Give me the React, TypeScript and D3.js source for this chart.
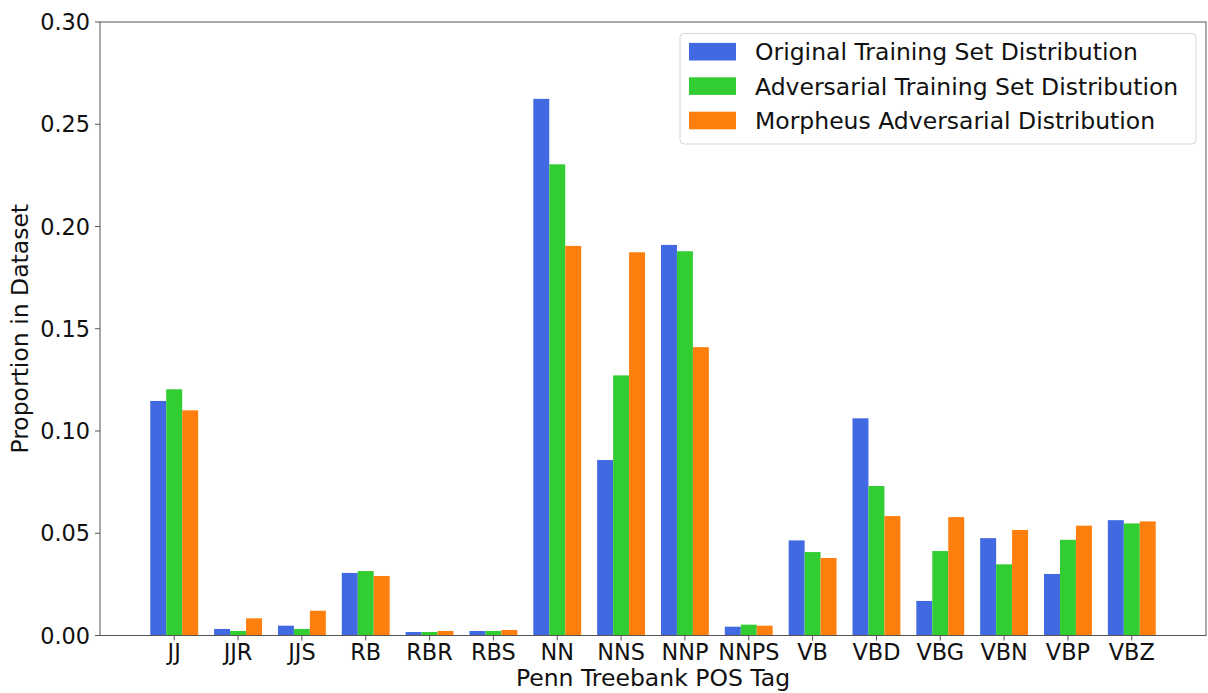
import React from 'react';
import * as d3 from 'd3';

// POS tag categories and the three distributions
const tags = ['JJ', 'JJR', 'JJS', 'RB', 'RBR', 'RBS', 'NN', 'NNS', 'NNP', 'NNPS', 'VB', 'VBD', 'VBG', 'VBN', 'VBP', 'VBZ'];
const original = [0.1147, 0.0032, 0.0048, 0.0306, 0.0017, 0.0022, 0.2624, 0.0858, 0.191, 0.0043, 0.0465, 0.1062, 0.0169, 0.0476, 0.0301, 0.0564];
const adversarial = [0.1204, 0.0022, 0.0032, 0.0315, 0.0017, 0.0022, 0.2304, 0.1272, 0.1879, 0.0053, 0.0408, 0.0731, 0.0413, 0.0348, 0.0468, 0.0548];
const morpheus = [0.1101, 0.0084, 0.0121, 0.0291, 0.0022, 0.0027, 0.1905, 0.1874, 0.141, 0.0048, 0.0379, 0.0584, 0.0579, 0.0516, 0.0537, 0.0558];
const seriesNames = ['Original Training Set Distribution', 'Adversarial Training Set Distribution', 'Morpheus Adversarial Distribution'];
const yTicks = [0, 0.05, 0.1, 0.15, 0.2, 0.25, 0.3];

const colors = ['#4169e1', '#32cd32', '#ff7f0e'];
const font = 'DejaVu Sans, sans-serif';
const tickFs = 22.4;
const labelFs = 23.5;

const W = 1208, H = 693;
const left = 100, right = 1206, top = 22, bottom = 635.5;

const App = () => {
  const series = [original, adversarial, morpheus];
  const barW = 0.25;
  const x = d3.scaleLinear().domain([-1.1625, 16.1625]).range([left, right]);
  const y = d3.scaleLinear().domain([0, 0.3]).range([bottom, top]);
  const fmt = d3.format('.2f');

  return (
    <svg width={W} height={H} style={{ position: 'absolute', left: 0, top: 0, background: '#fff' }} fontFamily={font}>
      {/* bars */}
      {series.map((vals, k) =>
        vals.map((v, i) => {
          const x0 = x(i + (k - 1) * barW - barW / 2);
          const x1 = x(i + (k - 1) * barW + barW / 2);
          return <rect key={`${k}-${i}`} x={x0} y={y(v)} width={x1 - x0} height={y(0) - y(v)} fill={colors[k]} />;
        })
      )}

      {/* frame */}
      <rect x={left} y={top} width={right - left} height={bottom - top} fill="none" stroke="#555" strokeWidth={1} />

      {/* y axis */}
      {yTicks.map((t) => (
        <g key={t}>
          <line x1={left - 5} x2={left} y1={y(t)} y2={y(t)} stroke="#555" />
          <text x={left - 10} y={y(t)} dy="0.36em" textAnchor="end" fontSize={tickFs} fill="#111">{fmt(t)}</text>
        </g>
      ))}

      {/* x axis */}
      {tags.map((t, i) => (
        <g key={t}>
          <line x1={x(i)} x2={x(i)} y1={bottom} y2={bottom + 5} stroke="#555" />
          <text x={x(i)} y={660} textAnchor="middle" fontSize={tickFs} fill="#111">{t}</text>
        </g>
      ))}

      <text x={(left + right) / 2} y={686} textAnchor="middle" fontSize={labelFs} fill="#111">Penn Treebank POS Tag</text>
      <text transform={`translate(28,${(top + bottom) / 2}) rotate(-90)`} textAnchor="middle" fontSize={labelFs} fill="#111">Proportion in Dataset</text>

      {/* legend */}
      <rect x={680} y={33.5} width={516} height={110.5} rx={4} fill="#fff" fillOpacity={0.8} stroke="#d6d6d6" />
      {seriesNames.map((name, k) => {
        const cy = 51.7 + k * 34.4;
        return (
          <g key={name}>
            <rect x={689} y={cy - 8.8} width={47} height={17.6} fill={colors[k]} />
            <text x={755} y={cy} dy="0.36em" fontSize={labelFs} fill="#111">{name}</text>
          </g>
        );
      })}
    </svg>
  );
};

export default App;
